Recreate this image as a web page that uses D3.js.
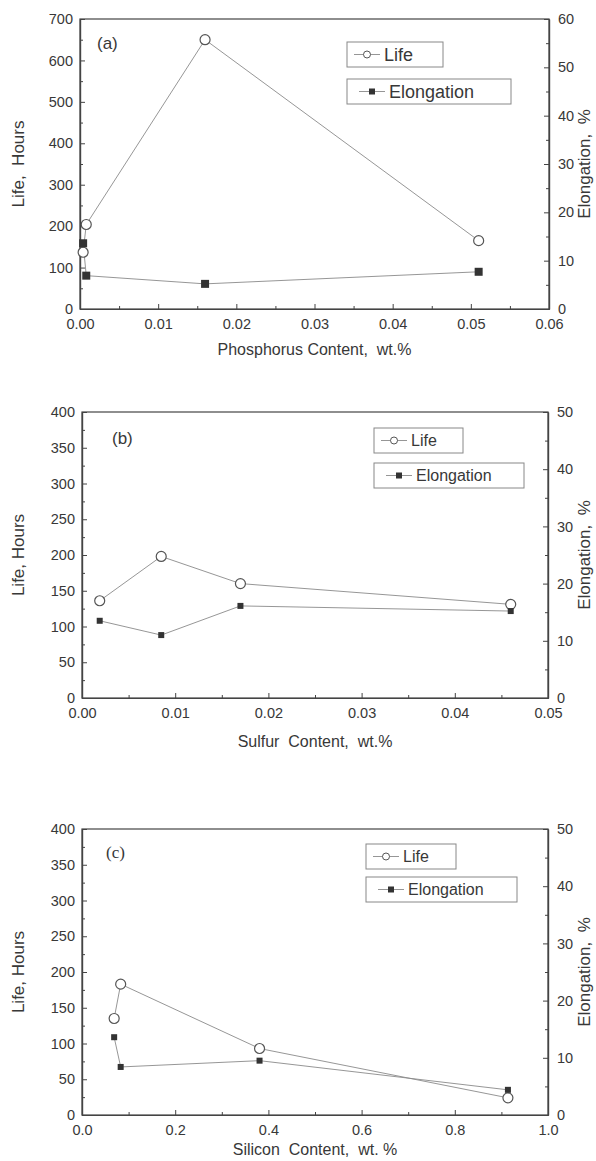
<!DOCTYPE html>
<html>
<head>
<meta charset="utf-8">
<script src="https://cdn.jsdelivr.net/npm/d3@7"></script>
<style>
  body { margin: 0; background: #fff; }
  svg { display: block; }
  text { font-family: "Liberation Sans", Arial, sans-serif; fill: #383838; }
</style>
</head>
<body>
<div id="chart"></div>
<script>
// (a) phosphorus
const phosphorusContent = [0.0004, 0.0008, 0.016, 0.051];
const phosphorusLife = [137, 204, 650, 165];
const phosphorusElongation = [13.6, 6.9, 5.2, 7.7];

// (b) sulfur
const sulfurContent = [0.0019, 0.0085, 0.017, 0.046];
const sulfurLife = [136, 198, 160, 131];
const sulfurElongation = [13.5, 11.0, 16.1, 15.2];

// (c) silicon
const siliconContent = [0.069, 0.083, 0.381, 0.914];
const siliconLife = [135, 183, 93, 24];
const siliconElongation = [13.6, 8.4, 9.5, 4.4];

const xTicksA = [0, 0.01, 0.02, 0.03, 0.04, 0.05, 0.06];
const xTicksB = [0, 0.01, 0.02, 0.03, 0.04, 0.05];
const xTicksC = [0, 0.2, 0.4, 0.6, 0.8, 1.0];
const lifeTicksA = [0, 100, 200, 300, 400, 500, 600, 700];
const lifeTicksBC = [0, 50, 100, 150, 200, 250, 300, 350, 400];
const elongTicksA = [0, 10, 20, 30, 40, 50, 60];
const elongTicksBC = [0, 10, 20, 30, 40, 50];

const panels = [
  {
    tag: "(a)", tagSerif: false,
    x: phosphorusContent, life: phosphorusLife, elong: phosphorusElongation,
    xTicks: xTicksA, xFmt: ".2f", lifeTicks: lifeTicksA, elongTicks: elongTicksA,
    xTitle: "Phosphorus Content,  wt.%", yTitle: "Life,  Hours",
    box: { left: 80, top: 19, right: 549, bottom: 309 },
    tagPos: [97, 49], legendX: 347, legendY: [42, 79], lifeW: 96, elongW: 164,
    legendFont: 18, sq: 8, xTitleY: 355
  },
  {
    tag: "(b)", tagSerif: false,
    x: sulfurContent, life: sulfurLife, elong: sulfurElongation,
    xTicks: xTicksB, xFmt: ".2f", lifeTicks: lifeTicksBC, elongTicks: elongTicksBC,
    xTitle: "Sulfur  Content,  wt.%", yTitle: "Life, Hours",
    box: { left: 82, top: 412, right: 548, bottom: 698 },
    tagPos: [112, 444], legendX: 374, legendY: [428, 463], lifeW: 89, elongW: 150,
    legendFont: 16, sq: 6, xTitleY: 747
  },
  {
    tag: "(c)", tagSerif: true,
    x: siliconContent, life: siliconLife, elong: siliconElongation,
    xTicks: xTicksC, xFmt: ".1f", lifeTicks: lifeTicksBC, elongTicks: elongTicksBC,
    xTitle: "Silicon  Content,  wt. %", yTitle: "Life, Hours",
    box: { left: 82, top: 829, right: 548, bottom: 1115 },
    tagPos: [106, 858], legendX: 366, legendY: [844, 877], lifeW: 90, elongW: 151,
    legendFont: 16, sq: 6, xTitleY: 1155
  }
];

const svg = d3.select("#chart").append("svg")
  .attr("width", 596).attr("height", 1161);

const axisColor = "#444";
const lineColor = "#8a8a8a";

panels.forEach(drawPanel);

function minorTicks(ticks) {
  const out = [];
  for (let i = 0; i < ticks.length - 1; i++) out.push((ticks[i] + ticks[i + 1]) / 2);
  return out;
}

function styleAxis(g) {
  g.select(".domain").attr("stroke", axisColor).attr("stroke-width", 1.2);
  g.selectAll(".tick line").attr("stroke", axisColor).attr("stroke-width", 1);
  g.selectAll(".tick text").attr("fill", "#383838")
    .style("font-family", '"Liberation Sans", Arial, sans-serif')
    .style("font-size", "14.5px");
}

function drawPanel(p) {
  const b = p.box;
  const x = d3.scaleLinear()
    .domain([p.xTicks[0], p.xTicks[p.xTicks.length - 1]])
    .range([b.left, b.right]);
  const yL = d3.scaleLinear()
    .domain([0, p.lifeTicks[p.lifeTicks.length - 1]])
    .range([b.bottom, b.top]);
  const yR = d3.scaleLinear()
    .domain([0, p.elongTicks[p.elongTicks.length - 1]])
    .range([b.bottom, b.top]);

  const g = svg.append("g");

  // frame
  g.append("rect")
    .attr("x", b.left).attr("y", b.top)
    .attr("width", b.right - b.left).attr("height", b.bottom - b.top)
    .attr("fill", "none").attr("stroke", axisColor).attr("stroke-width", 1.2);

  // bottom axis, ticks pointing in
  g.append("g")
    .attr("transform", `translate(0,${b.bottom})`)
    .call(d3.axisBottom(x).tickValues(p.xTicks).tickFormat(d3.format(p.xFmt))
      .tickSizeInner(-5).tickSizeOuter(0).tickPadding(10))
    .call(styleAxis);
  g.append("g")
    .attr("transform", `translate(0,${b.bottom})`)
    .call(d3.axisBottom(x).tickValues(minorTicks(p.xTicks)).tickFormat("")
      .tickSizeInner(-3).tickSizeOuter(0))
    .call(styleAxis);

  // left axis
  g.append("g")
    .attr("transform", `translate(${b.left},0)`)
    .call(d3.axisLeft(yL).tickValues(p.lifeTicks)
      .tickSizeInner(-5).tickSizeOuter(0).tickPadding(7))
    .call(styleAxis);
  g.append("g")
    .attr("transform", `translate(${b.left},0)`)
    .call(d3.axisLeft(yL).tickValues(minorTicks(p.lifeTicks)).tickFormat("")
      .tickSizeInner(-3).tickSizeOuter(0))
    .call(styleAxis);

  // right axis
  g.append("g")
    .attr("transform", `translate(${b.right},0)`)
    .call(d3.axisRight(yR).tickValues(p.elongTicks)
      .tickSizeInner(-5).tickSizeOuter(0).tickPadding(9))
    .call(styleAxis);
  g.append("g")
    .attr("transform", `translate(${b.right},0)`)
    .call(d3.axisRight(yR).tickValues(minorTicks(p.elongTicks)).tickFormat("")
      .tickSizeInner(-3).tickSizeOuter(0))
    .call(styleAxis);

  // titles
  g.append("text")
    .attr("x", (b.left + b.right) / 2).attr("y", p.xTitleY)
    .attr("text-anchor", "middle")
    .style("font-size", "16px").style("white-space", "pre")
    .text(p.xTitle);
  g.append("text")
    .attr("transform", `translate(24,${(b.top + b.bottom) / 2}) rotate(-90)`)
    .attr("text-anchor", "middle")
    .style("font-size", "17px").style("white-space", "pre")
    .text(p.yTitle);
  g.append("text")
    .attr("transform", `translate(590,${(b.top + b.bottom) / 2}) rotate(-90)`)
    .attr("text-anchor", "middle")
    .style("font-size", "17px").style("white-space", "pre")
    .text("Elongation,  %");

  g.append("text")
    .attr("x", p.tagPos[0]).attr("y", p.tagPos[1])
    .style("font-size", "17px")
    .style("font-family", p.tagSerif ? '"Liberation Serif", serif' : null)
    .text(p.tag);

  // series
  const idx = d3.range(p.x.length);
  const lifeLine = d3.line().x((i) => x(p.x[i])).y((i) => yL(p.life[i]));
  const elongLine = d3.line().x((i) => x(p.x[i])).y((i) => yR(p.elong[i]));

  g.append("path").datum(idx)
    .attr("d", lifeLine).attr("fill", "none")
    .attr("stroke", lineColor).attr("stroke-width", 0.9);
  g.append("path").datum(idx)
    .attr("d", elongLine).attr("fill", "none")
    .attr("stroke", lineColor).attr("stroke-width", 0.9);

  g.selectAll(null).data(idx).join("circle")
    .attr("cx", (i) => x(p.x[i])).attr("cy", (i) => yL(p.life[i]))
    .attr("r", 5).attr("fill", "#fff")
    .attr("stroke", "#555").attr("stroke-width", 1.2);

  g.selectAll(null).data(idx).join("rect")
    .attr("x", (i) => x(p.x[i]) - p.sq / 2).attr("y", (i) => yR(p.elong[i]) - p.sq / 2)
    .attr("width", p.sq).attr("height", p.sq)
    .attr("fill", "#333");

  // legend
  const items = [
    { label: "Life", w: p.lifeW, marker: "circle" },
    { label: "Elongation", w: p.elongW, marker: "square" }
  ];
  const boxH = 25;
  items.forEach((it, k) => {
    const lg = g.append("g")
      .attr("transform", `translate(${p.legendX},${p.legendY[k]})`);
    lg.append("rect")
      .attr("width", it.w).attr("height", boxH)
      .attr("fill", "#fff").attr("stroke", "#888").attr("stroke-width", 1);
    const cy = boxH / 2;
    const x0 = k === 0 ? 7 : 12;
    lg.append("line")
      .attr("x1", x0).attr("x2", x0 + 26).attr("y1", cy).attr("y2", cy)
      .attr("stroke", lineColor).attr("stroke-width", 0.9);
    if (it.marker === "circle") {
      lg.append("circle").attr("cx", x0 + 13).attr("cy", cy).attr("r", 3.5)
        .attr("fill", "#fff").attr("stroke", "#555").attr("stroke-width", 1);
    } else {
      lg.append("rect").attr("x", x0 + 13 - 3).attr("y", cy - 3)
        .attr("width", 6).attr("height", 6).attr("fill", "#333");
    }
    lg.append("text")
      .attr("x", x0 + 30).attr("y", cy + p.legendFont * 0.36)
      .style("font-size", `${p.legendFont}px`)
      .text(it.label);
  });
}
</script>
</body>
</html>
